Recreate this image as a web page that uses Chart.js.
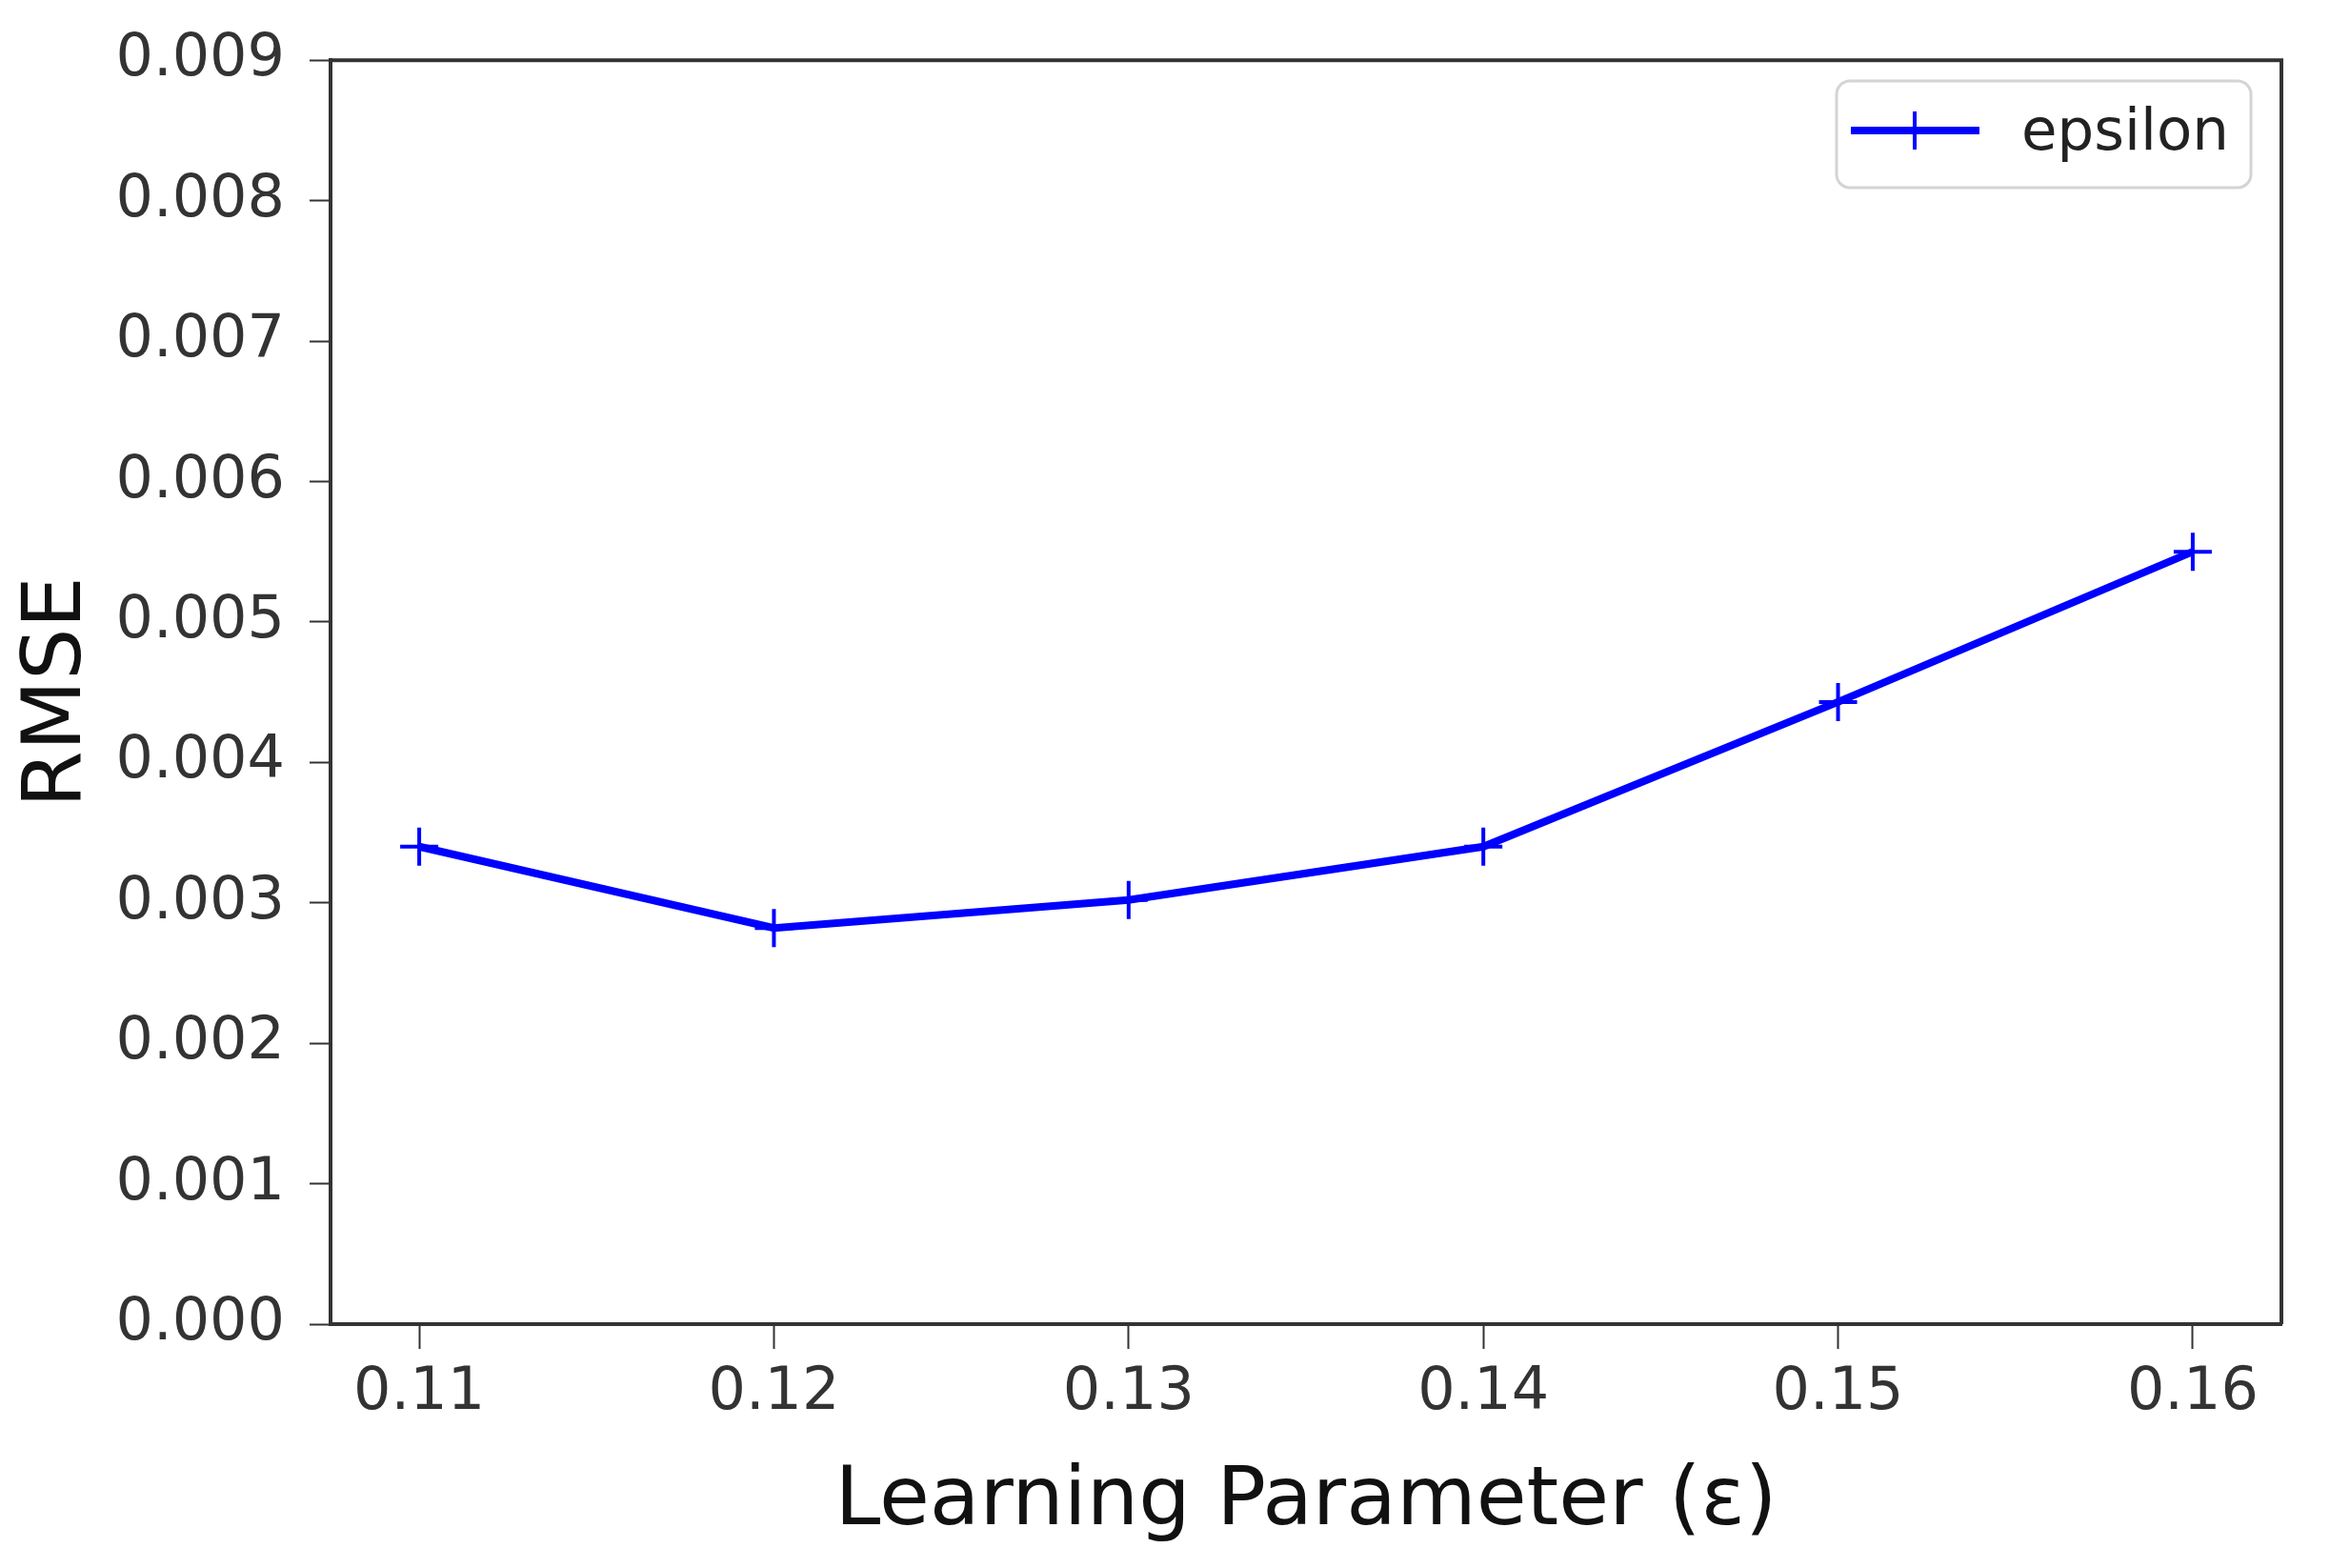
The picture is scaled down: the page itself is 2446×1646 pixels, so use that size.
<!DOCTYPE html>
<html>
<head>
<meta charset="utf-8">
<title>RMSE vs learning parameter</title>
<script src="https://cdn.jsdelivr.net/npm/chart.js@4.4.1/dist/chart.umd.min.js"></script>
<style>
  html, body { margin: 0; padding: 0; background: #fff; }
  #wrap { width: 2446px; height: 1646px; }
</style>
</head>
<body>
<div id="wrap"><canvas id="myChart"></canvas></div>
<script>
const epsValues = [0.11, 0.12, 0.13, 0.14, 0.15, 0.16];
const rmseValues = [0.0034, 0.00282, 0.00302, 0.0034, 0.00443, 0.0055];
const xTicks = [0.11, 0.12, 0.13, 0.14, 0.15, 0.16];
const yTicks = [0, 0.001, 0.002, 0.003, 0.004, 0.005, 0.006, 0.007, 0.008, 0.009];
const seriesLabel = 'epsilon';

const FONT = "'DejaVu Sans', 'Liberation Sans', sans-serif";
const axisColor = '#333';

// top + right spines, matplotlib style
const framePlugin = {
    id: 'frame',
    afterDraw(chart) {
        const { ctx, chartArea: a } = chart;
        ctx.save();
        ctx.strokeStyle = axisColor;
        ctx.lineWidth = 4;
        ctx.beginPath();
        ctx.moveTo(a.left, a.top);
        ctx.lineTo(a.right, a.top);
        ctx.lineTo(a.right, a.bottom);
        ctx.stroke();
        ctx.restore();
    }
};

// legend box in the upper right corner, line sample with a + marker
const legendPlugin = {
    id: 'boxLegend',
    afterDraw(chart) {
        const ctx = chart.ctx;
        const ds = chart.data.datasets[0];
        const x0 = 1928, y0 = 85, w = 435, h = 112, r = 14;
        ctx.save();
        ctx.beginPath();
        ctx.roundRect(x0, y0, w, h, r);
        ctx.fillStyle = 'rgba(255,255,255,0.8)';
        ctx.fill();
        ctx.strokeStyle = '#d4d4d4';
        ctx.lineWidth = 3;
        ctx.stroke();

        const ly = 137;
        ctx.strokeStyle = ds.borderColor;
        ctx.lineWidth = ds.borderWidth;
        ctx.beginPath();
        ctx.moveTo(1943, ly);
        ctx.lineTo(2078, ly);
        ctx.stroke();
        ctx.lineWidth = ds.pointBorderWidth;
        ctx.beginPath();
        ctx.moveTo(2010 - ds.pointRadius, ly);
        ctx.lineTo(2010 + ds.pointRadius, ly);
        ctx.moveTo(2010, ly - ds.pointRadius);
        ctx.lineTo(2010, ly + ds.pointRadius);
        ctx.stroke();

        ctx.fillStyle = '#222';
        ctx.font = '61px ' + FONT;
        ctx.textAlign = 'left';
        ctx.textBaseline = 'middle';
        ctx.fillText(ds.label, 2122, 141);
        ctx.restore();
    }
};

const ctx = document.getElementById('myChart').getContext('2d');
const myChart = new Chart(ctx, {
    type: 'line',
    data: {
        datasets: [{
            label: seriesLabel,
            data: epsValues.map((x, i) => ({ x: x, y: rmseValues[i] })),
            borderColor: '#0000ff',
            backgroundColor: '#0000ff',
            borderWidth: 8,
            pointStyle: 'cross',
            pointRadius: 20,
            pointBorderWidth: 4,
            pointBorderColor: '#0000ff',
            tension: 0,
            fill: false
        }]
    },
    options: {
        responsive: true,
        maintainAspectRatio: false,
        animation: false,
        layout: { padding: { top: 57, right: 51, left: 0, bottom: 0 } },
        plugins: {
            legend: { display: false },
            tooltip: { enabled: false }
        },
        scales: {
            x: {
                type: 'linear',
                min: 0.1075,
                max: 0.1625,
                afterBuildTicks: s => { s.ticks = xTicks.map(v => ({ value: v })); },
                afterFit: s => { s.height = 256; },
                grid: { drawOnChartArea: false, tickLength: 26, tickWidth: 2, tickColor: axisColor },
                border: { display: true, color: axisColor, width: 4 },
                ticks: {
                    padding: 10,
                    color: '#333',
                    font: { family: FONT, size: 62 },
                    callback: v => v.toFixed(2)
                },
                title: {
                    display: true,
                    text: 'Learning Parameter (ε)',
                    color: '#111',
                    font: { family: FONT, size: 86 },
                    padding: { top: 0, bottom: 17 }
                }
            },
            y: {
                min: 0,
                max: 0.009,
                afterBuildTicks: s => { s.ticks = yTicks.map(v => ({ value: v })); },
                afterFit: s => { s.width = 347; },
                grid: { drawOnChartArea: false, tickLength: 22, tickWidth: 2, tickColor: axisColor },
                border: { display: true, color: axisColor, width: 4 },
                ticks: {
                    padding: 26,
                    color: '#333',
                    font: { family: FONT, size: 62 },
                    callback: v => v.toFixed(3)
                },
                title: {
                    display: true,
                    text: 'RMSE',
                    color: '#111',
                    font: { family: FONT, size: 86 },
                    padding: { top: 10, bottom: 0 }
                }
            }
        }
    },
    plugins: [framePlugin, legendPlugin]
});
</script>
</body>
</html>
